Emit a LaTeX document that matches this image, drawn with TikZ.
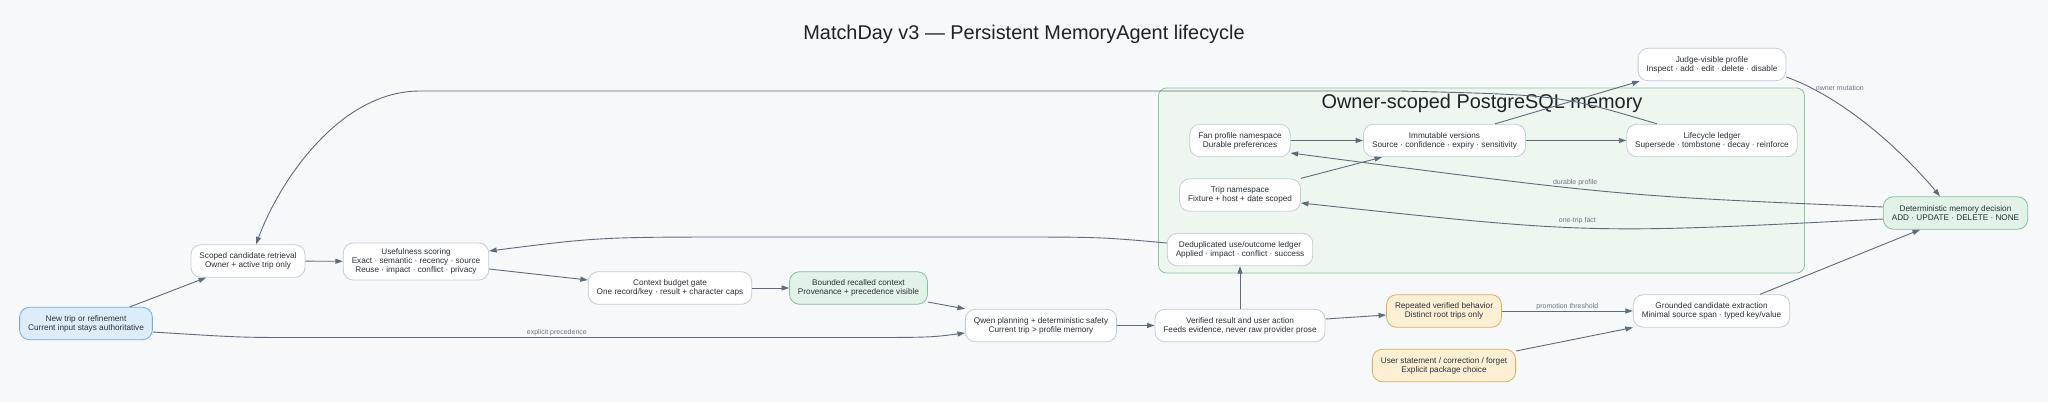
\documentclass[tikz,border=0pt]{standalone}
\usepackage{fontspec}
\setmainfont{Liberation Sans}
\usepackage{xcolor}
\usepackage{tikz}
\usetikzlibrary{positioning,arrows.meta}
\definecolor{bgcol}{HTML}{F6F8FA}
\definecolor{edgecol}{HTML}{5E6B7B}
\definecolor{boxline}{HTML}{C6CCD4}
\definecolor{txtcol}{HTML}{2B3138}
\definecolor{titlecol}{HTML}{1F2328}
\definecolor{lblcol}{HTML}{6B7684}
\definecolor{bluefill}{HTML}{DCECF8}
\definecolor{blueline}{HTML}{78ABD3}
\definecolor{greenfill}{HTML}{E3F2E8}
\definecolor{greenline}{HTML}{87BF9D}
\definecolor{orangefill}{HTML}{FDEFD4}
\definecolor{orangeline}{HTML}{D6B168}
\definecolor{clusterfill}{HTML}{EDF7F0}
\definecolor{clusterline}{HTML}{8DC6A5}

\begin{document}
\begin{tikzpicture}[x=1pt,y=-1pt,color=edgecol,->,>={Triangle[length=7.5pt,width=5pt]},line width=0.9pt,
		box/.style={draw=boxline,fill=white,text=txtcol,rounded corners=10pt,align=center,
			minimum height=32.5pt,inner xsep=8.5pt,inner ysep=3pt,line width=0.8pt,
			font=\fontsize{8.2}{9}\selectfont},
		bluebox/.style={box,draw=blueline,fill=bluefill},
		greenbox/.style={box,draw=greenline,fill=greenfill},
		orangebox/.style={box,draw=orangeline,fill=orangefill},
		cluster/.style={draw=clusterline,fill=clusterfill,rounded corners=8pt,inner sep=0pt,line width=0.8pt},
		lbl/.style={text=lblcol,inner sep=1pt,font=\fontsize{7}{8}\selectfont}]
		\fill[bgcol] (0,0) rectangle (2048,402);
		\useasboundingbox (0,0) rectangle (2048,402);

		\node[text=titlecol,anchor=base,font=\fontsize{19.9}{22}\selectfont] (title) at (1024,39) {MatchDay v3 — Persistent MemoryAgent lifecycle};

		\node[cluster,minimum width=646pt,minimum height=185pt] (memory) at (1481.5,180.5) {};
		\node[text=titlecol,anchor=base,font=\fontsize{19.9}{22}\selectfont] (memorylabel) at (1482,108) {Owner-scoped PostgreSQL memory};

		\node[bluebox] (newtrip) at (86,323.5) {New trip or refinement\\Current input stays authoritative};
		\node[box] (scoped) at (248,261) {Scoped candidate retrieval\\Owner + active trip only};
		\node[box,minimum height=37pt] (useful) at (416,261.5) {Usefulness scoring\\Exact · semantic · recency · source\\Reuse · impact · conflict · privacy};
		\node[box] (budget) at (670,288) {Context budget gate\\One record/key · result + character caps};
		\node[greenbox] (bounded) at (858.5,288) {Bounded recalled context\\Provenance + precedence visible};
		\node[box] (qwen) at (1041,325.5) {Qwen planning + deterministic safety\\Current trip > profile memory};
		\node[box] (verified) at (1240,325.5) {Verified result and user action\\Feeds evidence, never raw provider prose};
		\node[box] (dedup) at (1240,249.5) {Deduplicated use/outcome ledger\\Applied · impact · conflict · success};
		\node[orangebox] (repeated) at (1444,311) {Repeated verified behavior\\Distinct root trips only};
		\node[orangebox] (userstmt) at (1444,365.5) {User statement / correction / forget\\Explicit package choice};
		\node[box] (grounded) at (1711.5,311) {Grounded candidate extraction\\Minimal source span · typed key/value};
		\node[greenbox] (decision) at (1955.5,213) {Deterministic memory decision\\ADD · UPDATE · DELETE · NONE};
		\node[box] (judge) at (1712,64.5) {Judge-visible profile\\Inspect · add · edit · delete · disable};
		\node[box] (fan) at (1240,140.5) {Fan profile namespace\\Durable preferences};
		\node[box] (immut) at (1444.5,140.5) {Immutable versions\\Source · confidence · expiry · sensitivity};
		\node[box] (lifecycle) at (1712,140.5) {Lifecycle ledger\\Supersede · tombstone · decay · reinforce};
		\node[box] (tripns) at (1240,195) {Trip namespace\\Fixture + host + date scoped};

		\path	([xshift=44pt]newtrip.north) edge ([xshift=-42pt]scoped.south)
				(scoped) edge (useful)
				([yshift=-7.5pt]useful.east) edge ([yshift=8pt]budget.west)
				(budget) edge (bounded)
				([yshift=-14pt]bounded.east) edge (qwen.north west)
				(qwen) edge (verified)
				(verified) edge (dedup)
				([yshift=6.5pt]verified.east) edge ([yshift=-4pt]repeated.west)
				(repeated) edge node[lbl,above]{promotion threshold} (grounded)
				([yshift=14.5pt]userstmt.east) edge ([yshift=-16.5pt]grounded.west)
				([xshift=48.5pt]grounded.north) edge ([xshift=-35.5pt]decision.south)
				(fan) edge (immut)
				(tripns.north east) edge ([xshift=-62.5pt]immut.south)
				(immut) edge (lifecycle)
				([xshift=50.5pt]immut.north) edge ([xshift=2pt]judge.south west);

		\draw ([yshift=-8.5pt]newtrip.east) .. controls (240,337.5) .. (300,337.5)
			-- node[lbl,above,pos=0.467]{explicit precedence} (850,337.5)
			.. controls (930,337.5) .. ([yshift=-7.5pt]qwen.west);
		\draw ([yshift=6.5pt]dedup.west) .. controls (1100,237) .. (1000,237) -- (750,237)
			.. controls (600,237) .. ([yshift=10.5pt]useful.east);
		\draw ([xshift=-55pt]lifecycle.north) .. controls (1560,95) .. (1400,91) -- (420,91)
			.. controls (340,91) and (280,180) .. ([xshift=8pt]scoped.north);
		\draw ([yshift=6pt]decision.west) .. controls (1620,196) ..
			node[lbl,pos=0.58,above=1pt]{durable profile} ([yshift=-12.5pt]fan.east);
		\draw ([yshift=-6pt]decision.west) .. controls (1590,234) ..
			node[lbl,pos=0.53,above=2pt]{one-trip fact} ([yshift=-8pt]tripns.east);
		\draw ([yshift=-12.5pt]judge.east) .. controls (1850,100) and (1910,160) ..
			node[lbl,pos=0.2,xshift=16pt,yshift=7pt]{owner mutation} ([xshift=-15.5pt]decision.north);
\end{tikzpicture}
\end{document}
